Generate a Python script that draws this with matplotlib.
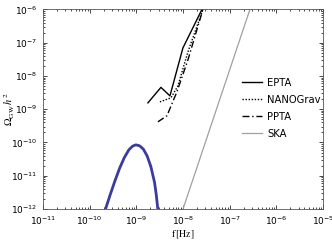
import numpy as np
import matplotlib
matplotlib.use("Agg")
import matplotlib.pyplot as plt

# values as log10(f), log10(Omega h^2)
epta_logf = [-8.752, -8.473, -8.280, -8.002, -7.595]
epta_logo = [-8.808, -8.342, -8.598, -7.156, -6.0]

nano_logf = [-8.495, -8.259, -8.109, -7.895, -7.574]
nano_logo = [-8.778, -8.658, -8.297, -7.276, -6.0]

ppta_logf = [-8.538, -8.345, -8.131, -7.895, -7.574]
ppta_logo = [-9.378, -9.198, -8.477, -7.517, -6.0]

ska_logf = [-8.0, -6.567]
ska_logo = [-12.0, -6.0]

sig_logf = [-9.66, -9.56, -9.46, -9.36, -9.26, -9.16, -9.08, -9.01,
            -8.93, -8.85, -8.77, -8.69, -8.61, -8.575, -8.54]
sig_logo = [-12.0, -11.57, -11.16, -10.78, -10.46, -10.22, -10.11, -10.07,
            -10.10, -10.20, -10.40, -10.72, -11.20, -11.55, -12.0]


def lin(v):
    return 10.0 ** np.asarray(v)


plt.rcParams.update({"mathtext.fontset": "stix", "font.size": 7})

fig = plt.figure(figsize=(3.32, 2.41), dpi=100)
ax = fig.add_axes([0.1295, 0.1328, 0.8435, 0.8278])

ax.plot(lin(sig_logf), lin(sig_logo), color="#3b3b9e", lw=2.0,
        solid_joinstyle="round", solid_capstyle="butt")
ax.plot(lin(epta_logf), lin(epta_logo), color="black", lw=1.0, label="EPTA")
ax.plot(lin(nano_logf), lin(nano_logo), color="black", lw=1.0, ls=(0, (1, 1.2)),
        label="NANOGrav")
ax.plot(lin(ppta_logf), lin(ppta_logo), color="black", lw=1.0,
        ls=(0, (5, 2, 1, 2)), label="PPTA")
ax.plot(lin(ska_logf), lin(ska_logo), color="#a0a0a0", lw=0.9, label="SKA")

ax.set_xscale("log")
ax.set_yscale("log")
ax.set_xlim(1e-11, 1e-5)
ax.set_ylim(1e-12, 1e-6)
ax.set_xticks([10.0 ** k for k in range(-11, -4)])
ax.set_yticks([10.0 ** k for k in range(-12, -5)])
ax.tick_params(which="both", direction="in", top=True, right=True, width=0.5)
ax.tick_params(which="major", length=3, labelsize=6.5, pad=4)
ax.tick_params(which="minor", length=1.5)
for s in ax.spines.values():
    s.set_linewidth(0.6)
    s.set_color("#555555")

ax.set_xlabel(r"$\mathrm{f\,[Hz]}$", fontsize=7, labelpad=1)
ax.set_ylabel(r"$\Omega_{\mathrm{GW}}\,h^2$", fontsize=7.5)
ax.yaxis.set_label_coords(-0.093, 0.5)

ax.legend(loc="center left", bbox_to_anchor=(0.696, 0.505), frameon=False,
          fontsize=7.2, handlelength=2.0, handletextpad=0.5, labelspacing=0.7,
          borderaxespad=0)

fig.savefig("out.png", dpi=100)
